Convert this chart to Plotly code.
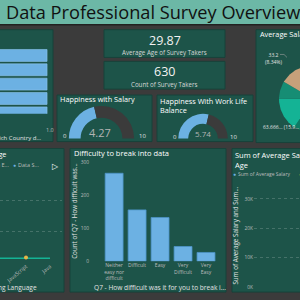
import numpy as np
import plotly.graph_objects as go

W = H = 300
def fx(x): return x / W
def fy(y): return 1 - y / H

# ---------------- data ----------------
country_labels = ["United States", "India", "Other", "United Kingdom", "Canada"]
country_values = [1.0, 1.0, 1.0, 1.0, 1.0]

avg_age = 29.87
survey_count = 630
happy_salary = 4.27
happy_wlb = 5.74
gauge_max = 10

pie_labels = ["Data Scientist", "Data Engineer", "Data Architect", "Data Analyst", "Other", "Student/Looking/None"]
pie_values = [93.9, 77.0, 65.0, 63.666, 33.2, 65.3]
pie_colors = ["#6cb1e3", "#e7b546", "#0f7a64", "#14b395", "#168d74", "#c6a07a"]

lang_categories = ["Python", "R", "SQL", "C/C++", "JavaScript", "Java"]
lang_teal = [2.0, 2.0, 2.0, 2.0, 2.0, 2.0]
lang_gold = [None, None, None, None, 2.6, None]

difficulty_categories = ["Neither<br>easy nor<br>difficult", "Difficult", "Easy", "Very<br>Difficult", "Very<br>Easy"]
difficulty_counts = [267, 156, 133, 45, 27]

salary_ticks = [0, 10000, 20000, 30000]

# ---------------- style ----------------
FONT = "Open Sans"
BG = "#3b3b3b"
PANEL = "#1d5449"
PANEL_LINE = "#17433a"
TITLE_BAR = "#6cb8a6"
BLUE = "#6cb1e3"
GOLD = "#e7b546"
TEAL = "#14b395"
TICK = "#bdbdbd"
WHITE = "#ffffff"
LABEL = "#e2e2e2"

shapes = []
def rect(x0, y0, x1, y1, fill, line=PANEL_LINE, lw=1):
    shapes.append(dict(type="rect", xref="paper", yref="paper",
                       x0=fx(x0), x1=fx(x1), y0=fy(y1), y1=fy(y0),
                       fillcolor=fill, line=dict(color=line, width=lw), layer="below"))

annotations = []
def text(x, y, s, size, color=WHITE, xanchor="left", yanchor="middle", angle=0, align="left"):
    annotations.append(dict(x=fx(x), y=fy(y), xref="paper", yref="paper", text=s,
                            showarrow=False, xanchor=xanchor, yanchor=yanchor,
                            textangle=angle, borderpad=0, align=align,
                            font=dict(size=size, color=color, family=FONT)))

# panels
rect(-3, -3, 303, 25, TITLE_BAR, line="#222222", lw=1.5)
rect(-2, 30, 53, 143, PANEL)
rect(104, 30, 225, 58, PANEL)
rect(104, 62, 225, 90, PANEL)
rect(57, 96, 152, 143, PANEL)
rect(157, 96, 253, 143, PANEL)
rect(256, 30, 303, 144, PANEL)
rect(-2, 150, 64, 295, PANEL)
rect(70, 150, 226, 295, PANEL)
rect(232, 150, 303, 295, PANEL)

traces = []

# ---- left horizontal bars ----
traces.append(go.Bar(x=country_values, y=country_labels, orientation="h", width=0.83,
                     marker=dict(color=BLUE, line=dict(color="#8ec6ee", width=0.6)),
                     xaxis="x", yaxis="y", hoverinfo="skip"))

# ---- gauges (half donuts) ----
def gauge(value, cx, cy, r, hole):
    traces.append(go.Pie(values=[value, gauge_max - value, gauge_max], sort=False,
                         direction="clockwise", rotation=270, hole=hole,
                         marker=dict(colors=[BLUE, BG, "rgba(0,0,0,0)"]),
                         textinfo="none", hoverinfo="skip", showlegend=False,
                         domain=dict(x=[fx(cx - r), fx(cx + r)], y=[fy(cy + r), fy(cy - r)])))
gauge(happy_salary, 101.5, 140, 33, 0.64)
gauge(happy_wlb, 203, 140, 25, 0.6)

# ---- pie (partially visible) ----
vals = np.array(pie_values, dtype=float)
fr = vals / vals.sum()
edges = np.concatenate([[0], np.cumsum(fr)]) * 2 * np.pi
for i in range(len(vals)):
    th = np.linspace(edges[i], edges[i + 1], 80)
    px_ = np.concatenate([[0], np.sin(th), [0]])
    py_ = np.concatenate([[0], np.cos(th), [0]])
    traces.append(go.Scatter(x=px_, y=py_, fill="toself", mode="lines",
                             line=dict(width=0, color=pie_colors[i]), fillcolor=pie_colors[i],
                             xaxis="x3", yaxis="y3", hoverinfo="skip"))

# ---- language line chart ----
traces.append(go.Scatter(x=lang_categories, y=lang_teal, mode="lines",
                         line=dict(color=TEAL, width=1.5), xaxis="x4", yaxis="y4", hoverinfo="skip"))
traces.append(go.Scatter(x=lang_categories, y=lang_gold, mode="markers",
                         marker=dict(color=GOLD, size=4), xaxis="x4", yaxis="y4", hoverinfo="skip"))

# ---- difficulty bars ----
traces.append(go.Bar(x=difficulty_categories, y=difficulty_counts, width=0.78,
                     marker=dict(color=BLUE, line=dict(color="#4d93c6", width=0.8)),
                     xaxis="x2", yaxis="y2", hoverinfo="skip"))

# ---- sum chart (data off view) ----
traces.append(go.Scatter(x=[], y=[], xaxis="x5", yaxis="y5"))

# ---------------- text ----------------
text(5, 12.5, "Data Professional Survey Overview", 18.2, color="#111111")

text(164.5, 40.5, f"{avg_age:.2f}", 12.5, color="#f2f2f2", xanchor="center")
text(164.5, 53.5, "Average Age of Survey Takers", 6.2, color="#d6d6d6", xanchor="center")
text(164.5, 72.5, f"{survey_count}", 12.5, color="#f2f2f2", xanchor="center")
text(164.5, 85.5, "Count of Survey Takers", 6.2, color="#d6d6d6", xanchor="center")

text(59, 100.5, "Happiness with Salary", 7.3)
text(65, 137.5, "0", 6, color=LABEL, xanchor="center")
text(142, 137.5, f"{gauge_max}", 6, color=LABEL, xanchor="center")
text(100, 134, f"{happy_salary:.2f}", 11, color="#b4b4b4", xanchor="center")

text(159, 95.5, "Happiness With Work Life<br>Balance", 7.3, yanchor="top")
text(174.5, 138, "0", 6, color=LABEL, xanchor="center")
text(233.5, 138, f"{gauge_max}", 6, color=LABEL, xanchor="center")
text(203.3, 135, f"{happy_wlb:.2f}", 8, color="#b4b4b4", xanchor="center")

text(50, 131, f"{max(country_values):.1f}", 5.5, color=TICK, xanchor="center")
text(43, 139, "Which Country d...", 6, color=LABEL, xanchor="right")

text(259, 34.5, "Average Salary by Job Title", 7.3)
pct_e = fr[4] * 100
pct_d = fr[3] * 100
text(273, 59.5, f"{pie_values[4]:.1f}<br>({pct_e:.2f}%)", 5, color=LABEL, xanchor="center", align="center")
text(262, 128, f"{str(pie_values[3])[:6]}... ({str(round(pct_d, 2))[:4]}...", 5, color=LABEL)
shapes.append(dict(type="path", xref="paper", yref="paper",
                   path=f"M {fx(280)} {fy(55)} L {fx(284)} {fy(55)} L {fx(287)} {fy(58)}",
                   line=dict(color="#a0a0a0", width=0.6)))

text(6.5, 156, "Average Salary by Favorite Programming Language", 7.3, xanchor="right")
text(-13, 167, "Data E...", 5.5, color=TICK)
text(14.5, 167, "●", 5, color=BLUE, xanchor="center")
text(16.5, 167, "Data S...", 5.5, color=TICK)
text(55.5, 167, "▷", 8, color=WHITE, xanchor="center")
text(37.5, 290, "Favorite Programming Language", 6.5, color=LABEL, xanchor="right")

text(73, 155, "Difficulty to break into data", 7.5)
text(75, 213, "Count of Q7 - How difficult was...", 6.3, color=LABEL, xanchor="center", angle=-90)
text(159.5, 290, "Q7 - How difficult was it for you to break i...", 6.6, color=LABEL, xanchor="center")

text(234, 150.5, "Sum of Average Salary and Sum of<br>Age", 7.5, yanchor="top")
text(234.5, 176, "●", 5, color=BLUE, xanchor="center")
text(236.5, 176, "Sum of Average Salary", 5, color=TICK)
text(300, 176, "●", 5, color=GOLD, xanchor="center")
text(236, 238, "Sum of Average Salary and Sum...", 6.3, color=LABEL, xanchor="center", angle=-90)

# ---------------- layout ----------------
base = dict(showgrid=False, zeroline=False, showline=False, ticks="", fixedrange=True)
grid = dict(showgrid=True, gridcolor="rgba(255,255,255,0.18)", griddash="dot", gridwidth=0.8)

# pie axis ranges (unit circle)
pcx, pcy, pr = 313, 100, 34

fig = go.Figure(data=traces)
fig.update_layout(
    width=W, height=H, margin=dict(l=0, r=0, t=0, b=0),
    paper_bgcolor=BG, plot_bgcolor="rgba(0,0,0,0)", showlegend=False,
    font=dict(family=FONT, color=TICK),
    shapes=shapes, annotations=annotations,
    xaxis=dict(base, domain=[0, fx(50)], range=[0.2, 1.05], showticklabels=False, anchor="y"),
    yaxis=dict(base, domain=[fy(115), fy(48.75)], type="category", range=[4.07, -0.5],
               showticklabels=False, anchor="x"),
    xaxis2=dict(base, domain=[fx(90), fx(217.5)], type="category", range=[-1.05, 4.5],
                tickfont=dict(size=5, color=TICK), anchor="y2"),
    yaxis2=dict(base, domain=[fy(264), fy(160)], range=[0, 312], tickvals=[0, 100, 200, 300],
                tickfont=dict(size=4.8, color=TICK), anchor="x2"),
    xaxis3=dict(base, domain=[fx(256), 1], range=[(256 - pcx) / pr, (300 - pcx) / pr],
                showticklabels=False, anchor="y3"),
    yaxis3=dict(base, domain=[fy(144), fy(30)], range=[(pcy - 144) / pr, (pcy - 30) / pr],
                showticklabels=False, anchor="x3"),
    xaxis4=dict(base, domain=[0, fx(62)], type="category", range=[2.917, 5.5],
                tickvals=["JavaScript", "Java"], tickangle=-40,
                tickfont=dict(size=5.3, color=TICK), anchor="y4"),
    yaxis4=dict(base, **grid, domain=[fy(264), fy(172)], range=[0, 60],
                tickvals=[20, 40], showticklabels=False, anchor="x4"),
    xaxis5=dict(base, domain=[fx(254), 1], range=[0, 1], showticklabels=False, anchor="y5"),
    yaxis5=dict(base, **grid, domain=[fy(290), fy(190)], range=[0, 33670],
                tickvals=salary_ticks, ticktext=[f"{v // 1000}K" for v in salary_ticks],
                tickfont=dict(size=4.8, color=TICK), anchor="x5"),
)
fig.write_html("out.html")
